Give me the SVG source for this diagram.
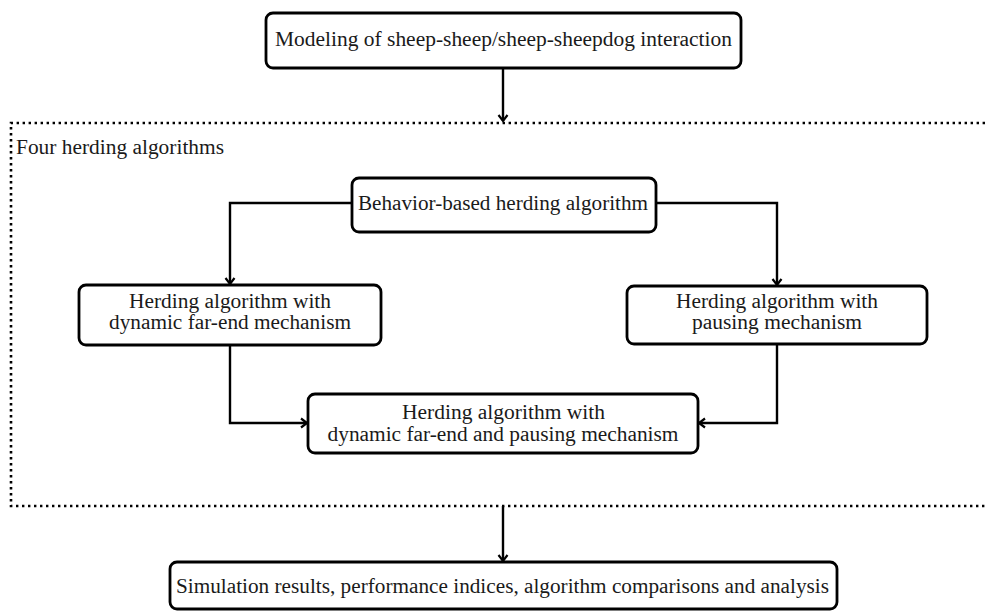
<svg xmlns="http://www.w3.org/2000/svg" width="985" height="611" viewBox="0 0 985 611">
  <style>
    .box { fill: #ffffff; stroke: #000000; stroke-width: 2.8; }
    .lbl { font-family: "Liberation Serif", "Times New Roman", serif; font-size: 20px; fill: #1a1a1a; }
    .mid { text-anchor: middle; }
    .conn { fill: none; stroke: #000000; stroke-width: 2.4; }
    .frame { fill: none; stroke: #000000; stroke-width: 2.6; stroke-dasharray: 2.4 3.6; }
  </style>
  <defs>
    <marker id="arrow" markerUnits="userSpaceOnUse" markerWidth="14" markerHeight="14" refX="9" refY="6" orient="auto">
      <path d="M3,1.5 L9,6 L3,10.5" fill="none" stroke="#000000" stroke-width="2.2" stroke-linejoin="miter"/>
    </marker>
  </defs>

  <rect width="985" height="611" fill="#ffffff"/>

  <!-- dotted frame around the four algorithms (open on the right) -->
  <g id="frame">
    <path class="frame" d="M985,123 L11,123 L11,506 L985,506"/>
    <text class="lbl" x="16" y="154" textLength="208" lengthAdjust="spacingAndGlyphs">Four herding algorithms</text>
  </g>

  <!-- connectors -->
  <g id="connectors">
    <path class="conn" d="M503,68 L503,121" marker-end="url(#arrow)"/>
    <path class="conn" d="M352,203 L230,203 L230,284" marker-end="url(#arrow)"/>
    <path class="conn" d="M656,203 L777,203 L777,285" marker-end="url(#arrow)"/>
    <path class="conn" d="M230,345 L230,423 L307,423" marker-end="url(#arrow)"/>
    <path class="conn" d="M777,344 L777,423 L699,423" marker-end="url(#arrow)"/>
    <path class="conn" d="M503,506 L503,561" marker-end="url(#arrow)"/>
  </g>

  <g id="modeling">
    <rect class="box" x="266" y="13" width="475" height="55" rx="7"/>
    <text class="lbl mid" x="503.5" y="45.5" textLength="457" lengthAdjust="spacingAndGlyphs">Modeling of sheep-sheep/sheep-sheepdog interaction</text>
  </g>

  <g id="behavior">
    <rect class="box" x="352" y="178" width="304" height="54" rx="7"/>
    <text class="lbl mid" x="503" y="210" textLength="290" lengthAdjust="spacingAndGlyphs">Behavior-based herding algorithm</text>
  </g>

  <g id="farend">
    <rect class="box" x="79" y="285" width="302" height="60" rx="7"/>
    <text class="lbl mid" x="230" y="308" textLength="202" lengthAdjust="spacingAndGlyphs">Herding algorithm with</text>
    <text class="lbl mid" x="230" y="329" textLength="242" lengthAdjust="spacingAndGlyphs">dynamic far-end mechanism</text>
  </g>

  <g id="pausing">
    <rect class="box" x="627" y="286" width="300" height="58" rx="7"/>
    <text class="lbl mid" x="777" y="308" textLength="202" lengthAdjust="spacingAndGlyphs">Herding algorithm with</text>
    <text class="lbl mid" x="777" y="329" textLength="170" lengthAdjust="spacingAndGlyphs">pausing mechanism</text>
  </g>

  <g id="combined">
    <rect class="box" x="308" y="394" width="390" height="59" rx="7"/>
    <text class="lbl mid" x="503.5" y="419" textLength="203" lengthAdjust="spacingAndGlyphs">Herding algorithm with</text>
    <text class="lbl mid" x="503" y="441" textLength="351" lengthAdjust="spacingAndGlyphs">dynamic far-end and pausing mechanism</text>
  </g>

  <g id="results">
    <rect class="box" x="170" y="562" width="667" height="47" rx="7"/>
    <text class="lbl mid" x="502.5" y="593" textLength="653" lengthAdjust="spacingAndGlyphs">Simulation results, performance indices, algorithm comparisons and analysis</text>
  </g>
</svg>
